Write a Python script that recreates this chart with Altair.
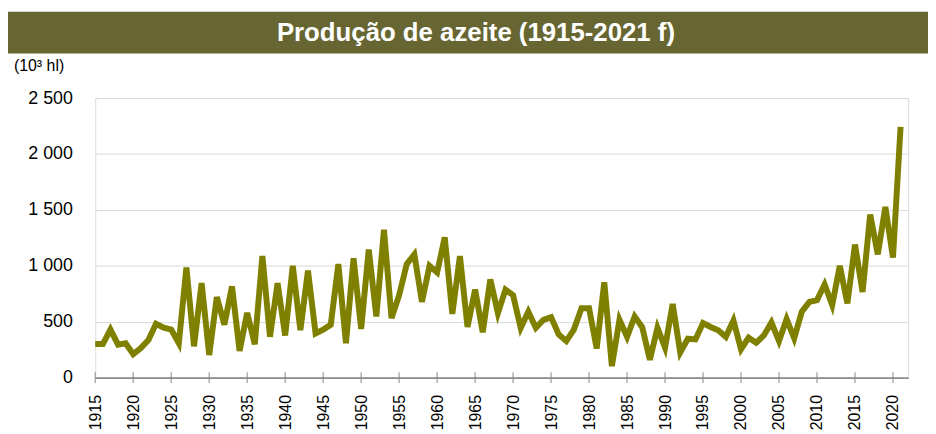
import altair as alt
import pandas as pd

years = list(range(1915, 2022))
production = [
    300, 300, 430, 295, 307, 210, 265, 336, 482, 447,
    430, 307, 985, 280, 845, 202, 720, 474, 816, 240,
    579, 298, 1087, 365, 845, 377, 1000, 424, 956, 395,
    430, 474, 1015, 307, 1067, 436, 1146, 547, 1322, 532,
    737, 1015, 1102, 678, 1000, 941, 1254, 570, 1087, 453,
    787, 406, 878, 576, 787, 737, 445, 590, 445, 517,
    541, 386, 327, 430, 620, 620, 260, 853, 103, 517,
    365, 547, 450, 160, 445, 269, 658, 225, 348, 342,
    488, 453, 424, 365, 511, 254, 357, 313, 377, 494,
    327, 524, 352, 590, 678, 693, 833, 649, 1000, 664,
    1190, 766, 1459, 1102, 1526, 1073, 2242,
]
tick_years = list(range(1915, 2021, 5))
y_ticks = [0, 500, 1000, 1500, 2000, 2500]
title_text = "Produção de azeite (1915-2021 f)"
unit_label = "(10³ hl)"

W, H = 820, 282
PAD = {"left": 88, "top": 89, "right": 20, "bottom": 55}
FONT = "Liberation Sans"

df = pd.DataFrame({"year": years, "value": production})
x_scale = alt.Scale(domain=[1915, 2022], nice=False, zero=False)
y_scale = alt.Scale(domain=[0, 2500], nice=False)

x_axis = alt.Axis(
    values=tick_years, format="d", labelAngle=270, labelAlign="right",
    labelBaseline="middle", labelPadding=17, labelFontSize=16,
    labelFont=FONT, labelColor="black", ticks=False,
    domainColor="#8c8c8c", domainWidth=2, grid=False, title=None,
    labelOverlap=False, labelFlush=False, labelBound=False,
)

line = alt.Chart(df).mark_line(color="#808000", strokeWidth=6).encode(
    x=alt.X("year:Q", scale=x_scale, axis=x_axis),
    y=alt.Y(
        "value:Q",
        scale=y_scale,
        axis=alt.Axis(
            values=y_ticks,
            labelExpr="replace(format(datum.value, ','), ',', ' ')",
            labelFontSize=18, labelFont=FONT, labelColor="black",
            labelPadding=23, ticks=False, domain=False, grid=True,
            gridColor="#d9d9d9", gridWidth=1, title=None,
        ),
    ),
)

ticks = alt.Chart(pd.DataFrame({"year": tick_years})).mark_tick(
    orient="vertical", size=11, thickness=1.5, color="#8c8c8c"
).encode(
    x=alt.X("year:Q", scale=x_scale, axis=x_axis),
    y=alt.datum(0),
)

bar = alt.Chart(pd.DataFrame({"t": [title_text]})).mark_rect(color="#676632").encode(
    x=alt.value(-88), x2=alt.value(840), y=alt.value(-87), y2=alt.value(-45)
)
title = alt.Chart(pd.DataFrame({"t": [title_text]})).mark_text(
    font=FONT, fontWeight="bold", fontSize=26, color="white",
    align="center", baseline="middle",
).encode(x=alt.value(384), y=alt.value(-66), text="t:N")

unit = alt.Chart(pd.DataFrame({"t": [unit_label]})).mark_text(
    font=FONT, fontSize=16, color="black", align="left", baseline="middle",
).encode(x=alt.value(-82), y=alt.value(-32), text="t:N")

chart = alt.layer(bar, title, unit, ticks, line).properties(
    width=W, height=H,
    autosize=alt.AutoSizeParams(type="none"),
    padding=PAD,
).configure_view(stroke=None).configure(font=FONT)

chart.save("out.html", embed_options={"renderer": "svg", "actions": False})
